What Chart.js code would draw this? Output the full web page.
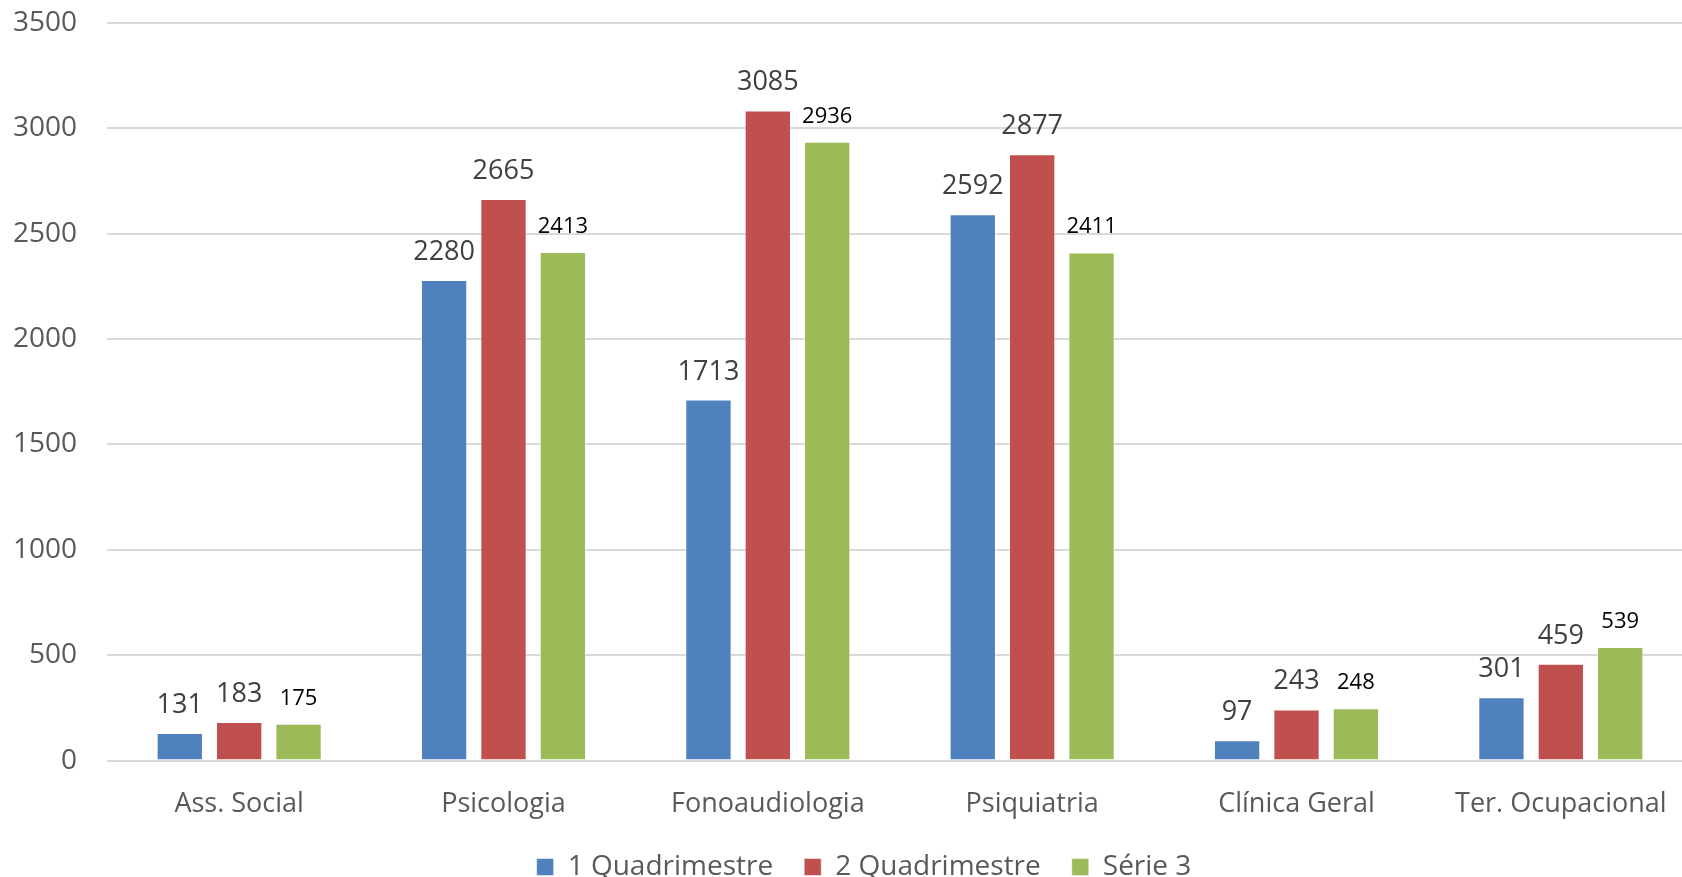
<!DOCTYPE html>
<html>
<head>
<meta charset="utf-8">
<script src="https://cdn.jsdelivr.net/npm/chart.js@4/dist/chart.umd.min.js"></script>
<style>
  html, body { margin: 0; padding: 0; background: #fff; overflow: hidden; }
  /* the original is cropped on the right, so the canvas runs a little past the window */
  #wrap { width: 1693px; height: 877px; }
</style>
</head>
<body>
<div id="wrap"><canvas id="chart"></canvas></div>
<script>
// categories and series
const categories = ["Ass. Social", "Psicologia", "Fonoaudiologia", "Psiquiatria", "Clínica Geral", "Ter. Ocupacional"];
const seriesNames = ["1 Quadrimestre", "2 Quadrimestre", "Série 3"];
const q1 = [131, 2280, 1713, 2592, 97, 301];
const q2 = [183, 2665, 3085, 2877, 243, 459];
const s3 = [175, 2413, 2936, 2411, 248, 539];
const yTicks = [0, 500, 1000, 1500, 2000, 2500, 3000, 3500];

const colors = ["#4F81BD", "#C0504D", "#9BBB59"];
const FONT = "'Open Sans', 'Noto Sans', sans-serif";

//draws the numbers above each bar
const barLabels = {
  id: "barLabels",
  afterDatasetsDraw(chart) {
    const ctx = chart.ctx;
    ctx.save();
    ctx.textAlign = "center";
    ctx.textBaseline = "alphabetic";
    chart.data.datasets.forEach((ds, i) => {
      const meta = chart.getDatasetMeta(i);
      const green = i == 2;
      ctx.font = (green ? "22px " : "27px ") + FONT;
      ctx.fillStyle = green ? "#000000" : "#404040";
      meta.data.forEach((bar, j) => {
        ctx.fillText(String(ds.data[j]), bar.x, bar.y - (green ? 19 : 20));
      });
    });
    ctx.restore();
  }
};

//legend sits a bit right of the canvas centre, like the original
const legendShift = {
  id: "legendShift",
  afterLayout(chart) {
    chart.legend.left += 35;
  }
};

new Chart(document.getElementById("chart"), {
  type: "bar",
  plugins: [barLabels, legendShift],
  data: {
    labels: categories,
    datasets: [q1, q2, s3].map((d, i) => ({
      label: seriesNames[i],
      data: d,
      backgroundColor: colors[i],
      borderColor: "rgba(255,255,255,0.5)",
      borderWidth: 1,
      categoryPercentage: 0.674,
      barPercentage: 0.78
    }))
  },
  options: {
    responsive: true,
    maintainAspectRatio: false,
    animation: false,
    layout: { padding: { top: 0, right: 0, bottom: -14, left: 0 } },
    plugins: {
      tooltip: { enabled: false },
      legend: {
        position: "bottom",
        labels: {
          boxWidth: 17,
          boxHeight: 17,
          padding: 31,
          color: "#595959",
          font: { family: FONT, size: 28 }
        }
      }
    },
    scales: {
      x: {
        grid: { display: false },
        border: { display: false },
        ticks: {
          color: "#595959",
          font: { family: FONT, size: 27 },
          autoSkip: false,
          maxRotation: 0,
          padding: 20
        },
        afterFit: (s) => { s.height = 61.4; }
      },
      y: {
        min: 0,
        max: 3500,
        afterBuildTicks: (s) => { s.ticks = yTicks.map(v => ({ value: v })); },
        grid: { color: "#d9d9d9", lineWidth: 2, drawTicks: false },
        border: { display: false },
        ticks: {
          color: "#595959",
          font: { family: FONT, size: 28 },
          padding: 30,
          callback: (v) => String(v)
        },
        //fixed width, and no extra room above the top tick
        afterFit: (s) => { s.width = 107; s.paddingTop = 23; s.paddingBottom = 0; }
      }
    }
  }
});
</script>
</body>
</html>
